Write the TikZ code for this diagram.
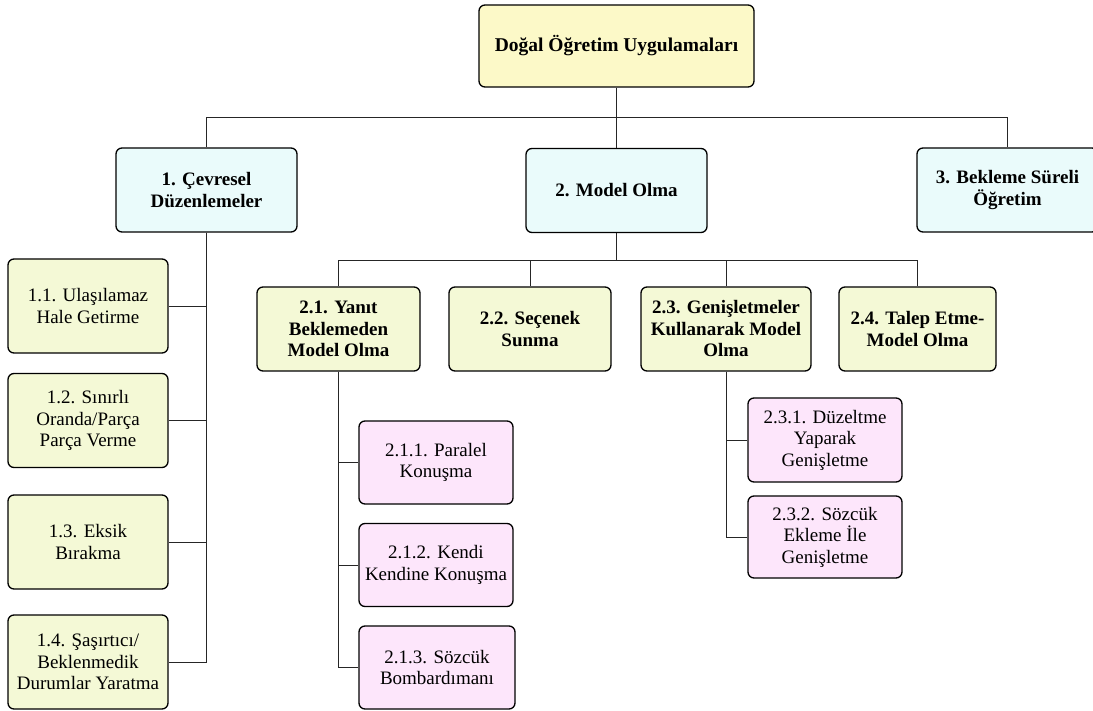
\documentclass[tikz,border=0pt]{standalone}
\usepackage{fontspec}
\setmainfont{Liberation Serif}
\definecolor{cTop}{HTML}{FCF9C8}
\definecolor{cOne}{HTML}{EAFBFB}
\definecolor{cTwo}{HTML}{F4F9D6}
\definecolor{cPink}{HTML}{FDE6FB}
\tikzset{
  box/.style={draw=black, line width=1.3pt, rounded corners=6pt, align=center, inner sep=2pt,
     font=\fontsize{19}{21.5}\selectfont},
  boldbox/.style={box, font=\fontsize{19}{21.5}\selectfont\bfseries},
  topbox/.style={boldbox, fill=cTop, minimum width=275pt, minimum height=82pt, font=\fontsize{19.5}{22}\selectfont\bfseries},
  onebox/.style={boldbox, fill=cOne, minimum width=181pt, minimum height=84pt},
  twobox/.style={boldbox, fill=cTwo, minimum height=84pt},
  leafbox/.style={box, fill=cTwo, minimum width=160pt, minimum height=94pt},
  pinkbox/.style={box, fill=cPink, minimum width=154pt, minimum height=83pt},
  link/.style={draw=black!85, line width=0.9pt},
}
\begin{document}
\begin{tikzpicture}[x=1pt,y=-1pt]
\useasboundingbox (0,0) rectangle (1093,711);
\clip (0,0) rectangle (1093,711);

\node[topbox] (top) at (616.5,46) {Doğal Öğretim Uygulamaları};

\node[onebox] (c1) at (206.5,190) {1. Çevresel\\Düzenlemeler};
\node[onebox] (c2) at (616.5,190.5) {2. Model Olma};
\node[onebox] (c3) at (1007.5,190) {3. Bekleme Süreli\\Öğretim};

\node[leafbox] (l11) at (88,306) {1.1. Ulaşılamaz\\Hale Getirme};
\node[leafbox] (l12) at (88,420.5) {1.2. Sınırlı\\Oranda/Parça\\Parça Verme};
\node[leafbox] (l13) at (88,542) {1.3. Eksik\\Bırakma};
\node[leafbox] (l14) at (88,662) {1.4. Şaşırtıcı/\\Beklenmedik\\Durumlar Yaratma};

\node[twobox, minimum width=163pt] (m21) at (338.5,329) {2.1. Yanıt\\Beklemeden\\Model Olma};
\node[twobox, minimum width=162pt] (m22) at (530,329) {2.2. Seçenek\\Sunma};
\node[twobox, minimum width=170pt] (m23) at (726,329) {2.3. Genişletmeler\\Kullanarak Model\\Olma};
\node[twobox, minimum width=157pt] (m24) at (917.5,329) {2.4. Talep Etme-\\Model Olma};

\node[pinkbox] (p211) at (436,462.5) {2.1.1. Paralel\\Konuşma};
\node[pinkbox] (p212) at (436,565) {2.1.2. Kendi\\Kendine Konuşma};
\node[pinkbox, minimum width=156pt] (p213) at (437,667.5) {2.1.3. Sözcük\\Bombardımanı};

\node[pinkbox, minimum height=84pt] (p231) at (825,440) {2.3.1. Düzeltme\\Yaparak\\Genişletme};
\node[pinkbox, minimum height=82pt] (p232) at (825,537) {2.3.2. Sözcük\\Ekleme İle\\Genişletme};

% connectors
\coordinate (bus0) at (616.5,117);
\draw[link] (top.south) -- (bus0);
\draw[link] (bus0) -| (c1.north);
\draw[link] (bus0) -| (c3.north);
\draw[link] (bus0) -- (c2.north);

\foreach \n in {l11,l12,l13,l14}{\draw[link] (c1.south) |- (\n.east);}

\coordinate (bus2) at (616.5,260);
\draw[link] (c2.south) -- (bus2);
\foreach \n in {m21,m22,m23,m24}{\draw[link] (bus2) -| (\n.north);}

\foreach \n in {p211,p212,p213}{\draw[link] (m21.south) |- (\n.west);}
\foreach \n in {p231,p232}{\draw[link] (m23.south) |- (\n.west);}
\end{tikzpicture}
\end{document}
